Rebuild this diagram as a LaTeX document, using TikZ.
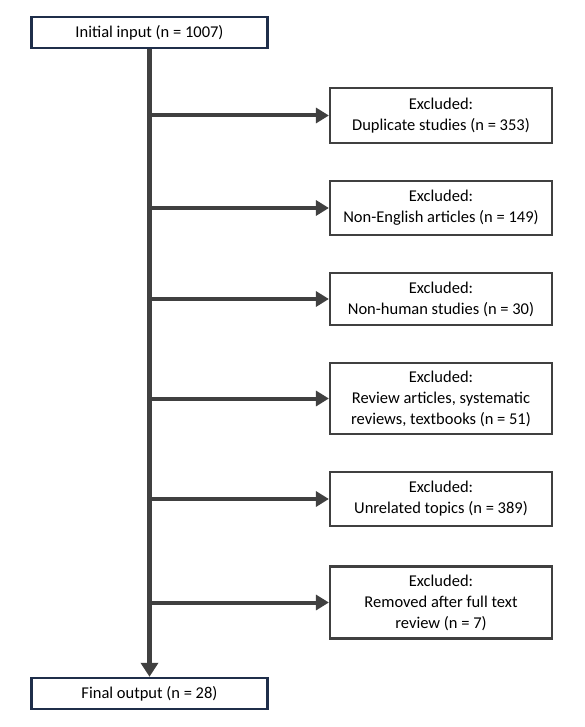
\documentclass[tikz,border=0pt]{standalone}
\usepackage{fontspec}
\setmainfont{Carlito}
\usetikzlibrary{arrows.meta}
\definecolor{navy}{HTML}{1F2E4A}
\definecolor{dgray}{HTML}{404040}
\begin{document}
\begin{tikzpicture}[x=1pt,y=-1pt,
  mainbox/.style={draw=navy,line width=2.4pt,fill=white,minimum width=236pt,minimum height=31pt,inner sep=0pt,font=\fontsize{16.5}{20}\selectfont},
  exbox/.style={draw=dgray,line width=2.2pt,fill=white,minimum width=222pt,inner sep=0pt,align=center,font=\fontsize{16.5}{21}\selectfont},
  arr/.style={draw=dgray,line width=4pt,-{Triangle[length=13pt,width=15pt]}}
]
\useasboundingbox (0,0) rectangle (584,727);
\node[mainbox] (init) at (149.5,32.5) {Initial input (n = 1007)};
\node[mainbox] (final) at (149.5,693.5) {Final output (n = 28)};
\node[exbox,minimum height=55pt] (e1) at (441,115.5) {Excluded:\\Duplicate studies (n = 353)};
\node[exbox,minimum height=54pt] (e2) at (441,208) {Excluded:\\Non-English articles (n = 149)};
\node[exbox,minimum height=52pt] (e3) at (441,299) {Excluded:\\Non-human studies (n = 30)};
\node[exbox,minimum height=71pt] (e4) at (441,398.5) {Excluded:\\Review articles, systematic\\reviews, textbooks (n = 51)};
\node[exbox,minimum height=54pt] (e5) at (441,499) {Excluded:\\Unrelated topics (n = 389)};
\node[exbox,minimum height=72pt] (e6) at (441,602.5) {Excluded:\\Removed after full text\\review (n = 7)};
\coordinate (j1) at (init.south |- e1.west);
\coordinate (j2) at (init.south |- e2.west);
\coordinate (j3) at (init.south |- e3.west);
\coordinate (j4) at (init.south |- e4.west);
\coordinate (j5) at (init.south |- e5.west);
\coordinate (j6) at (init.south |- e6.west);
\draw[draw=dgray,line width=5pt,-{Triangle[length=14pt,width=17pt]}] (init.south) -- (final.north);
\foreach \i in {1,...,6} \draw[arr] ([xshift=-2pt]j\i) -- (e\i.west);
\end{tikzpicture}
\end{document}
